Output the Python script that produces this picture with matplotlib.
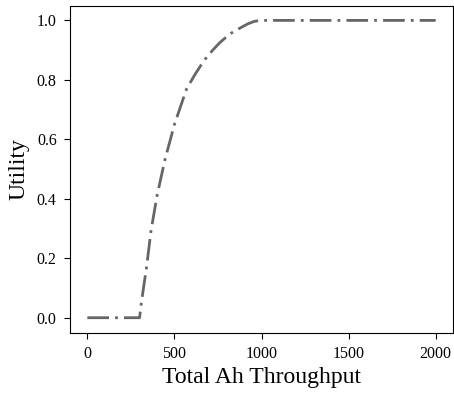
import matplotlib
matplotlib.use("Agg")
import matplotlib.pyplot as plt

throughput = [0, 300, 310, 325, 340, 365, 400, 445, 500, 570, 620, 670, 720, 760, 820, 870, 920, 960, 1000, 2000]
utility = [0.0, 0.0, 0.05, 0.11, 0.17, 0.29, 0.41, 0.53, 0.65, 0.77, 0.82, 0.865, 0.90, 0.925, 0.955, 0.972, 0.988, 0.997, 1.0, 1.0]

xticks = [0, 500, 1000, 1500, 2000]
yticks = [0.0, 0.2, 0.4, 0.6, 0.8, 1.0]

plt.rcParams['font.family'] = ['Liberation Serif', 'DejaVu Serif']
plt.rcParams['mathtext.fontset'] = 'stix'

fig = plt.figure(figsize=(4.54, 3.95), dpi=100)
ax = fig.add_axes([0.154, 0.158, 0.844, 0.828])
ax.plot(throughput, utility, color='#666666', linewidth=2.0,
        linestyle=(0, (7.8, 2.2, 1.0, 2.2)))
ax.set_xticks(xticks)
ax.set_xticklabels([str(t) for t in xticks])
ax.set_yticks(yticks)
ax.set_yticklabels([f"{t:.1f}" for t in yticks])
ax.tick_params(labelsize=11.5, length=4.5, pad=5)
ax.set_xlabel('Total Ah Throughput', fontsize=17, labelpad=4)
ax.set_ylabel('Utility', fontsize=17, labelpad=5)
fig.savefig('out.png', dpi=100)
